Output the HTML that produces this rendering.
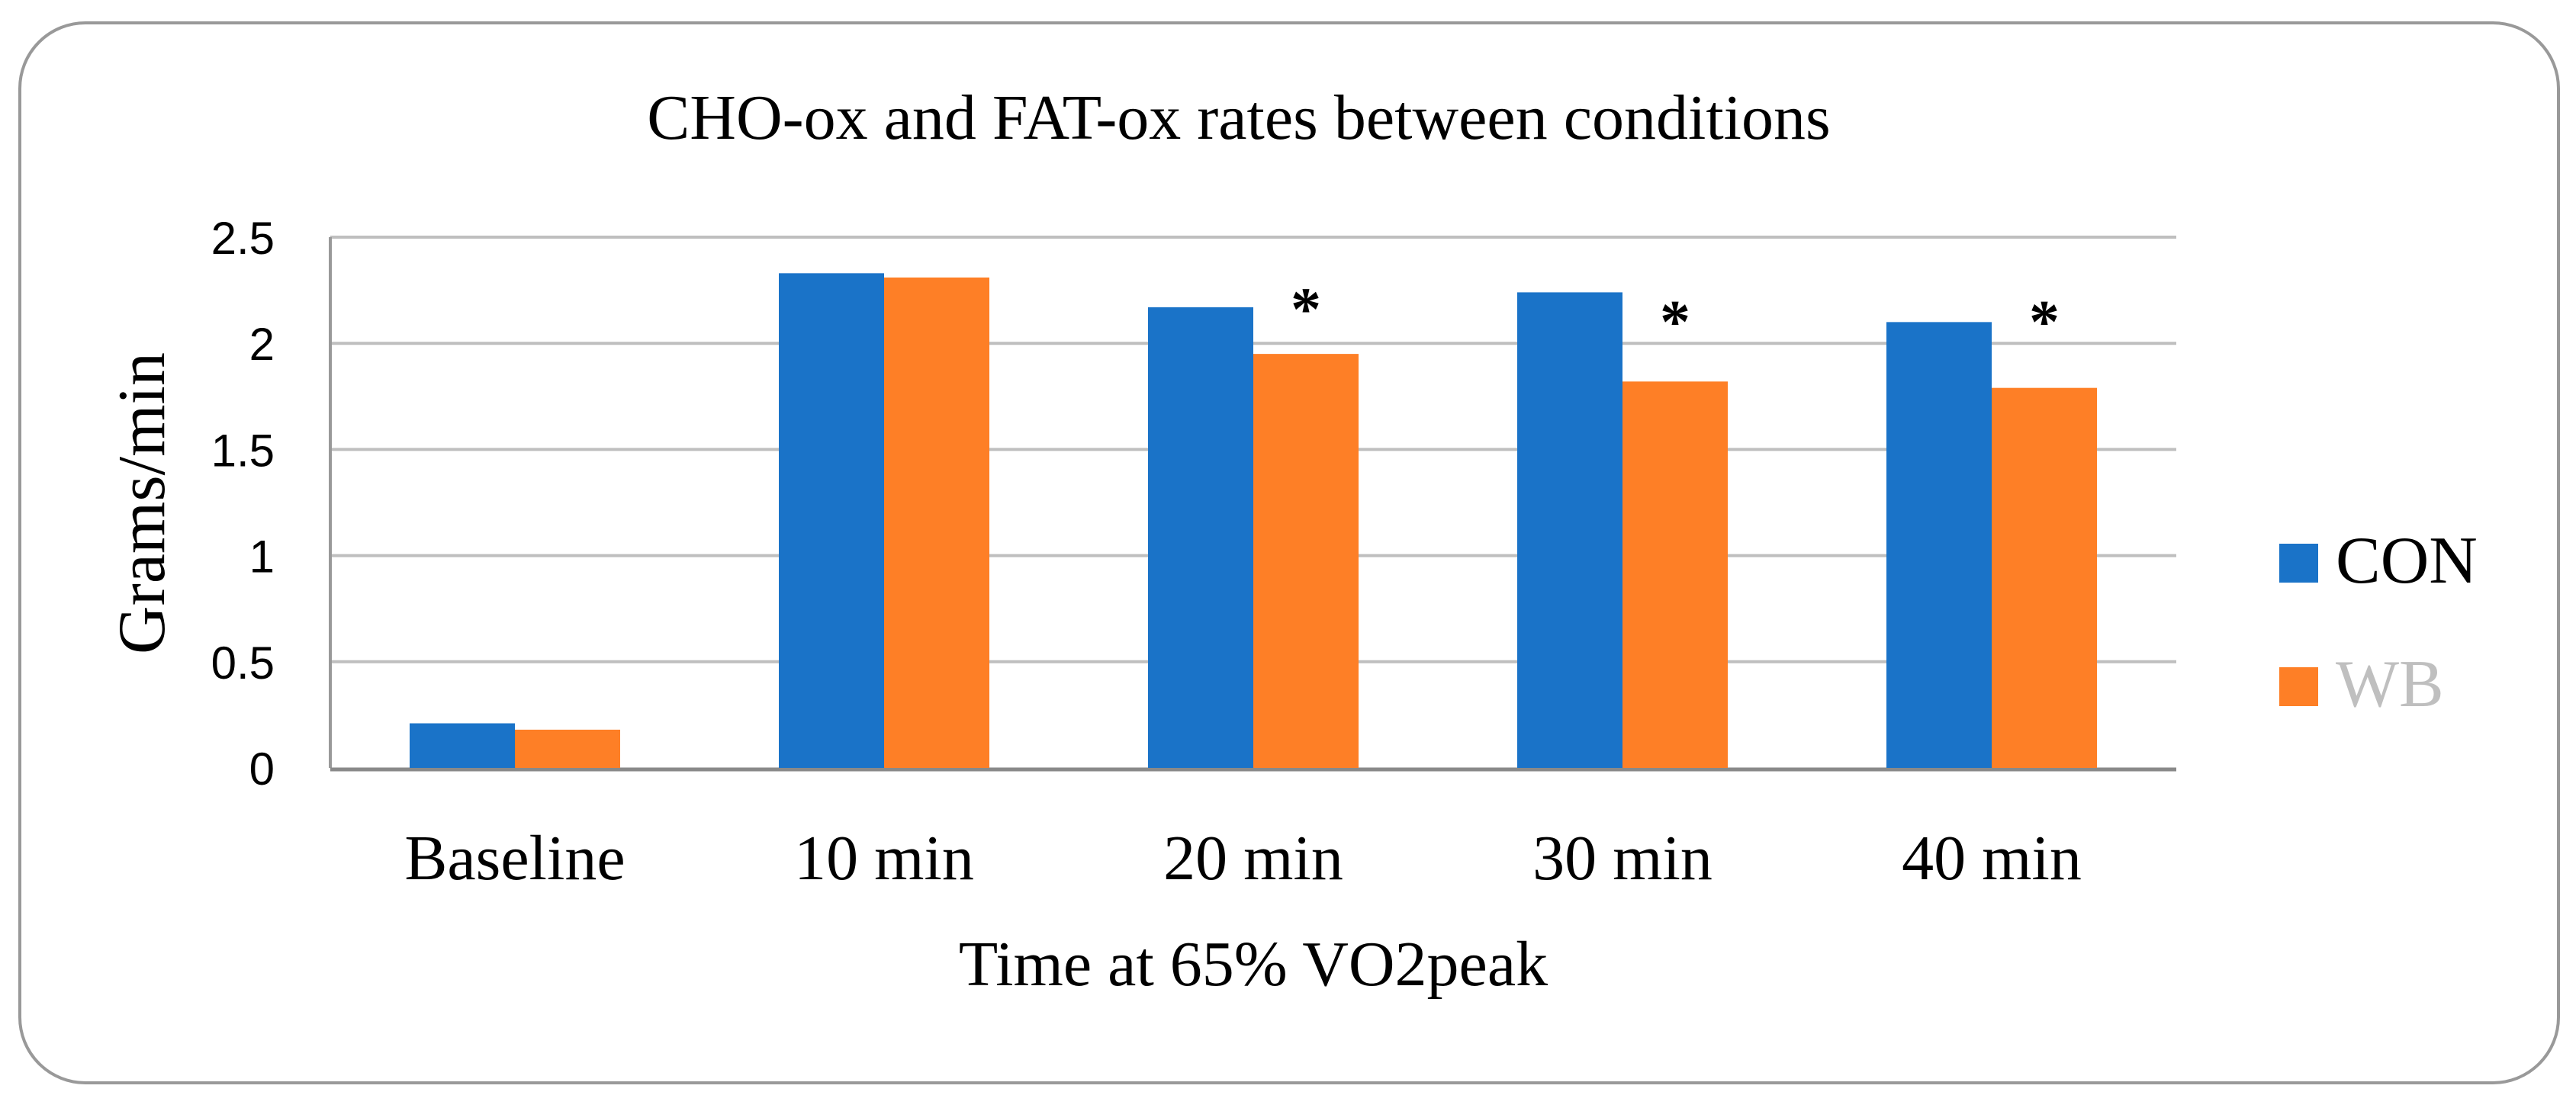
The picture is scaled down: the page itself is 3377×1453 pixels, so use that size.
<!DOCTYPE html>
<html><head><meta charset="utf-8"><style>
html,body{margin:0;padding:0;background:#fff;}
svg{display:block;}
</style></head><body>
<svg id="chart" width="3377" height="1453" viewBox="0 0 3377 1453" xmlns="http://www.w3.org/2000/svg">
<rect x="26" y="30" width="3328" height="1390" rx="86" ry="86" fill="#fff" stroke="#999" stroke-width="4"/>
<text x="1624" y="182" text-anchor="middle" font-family="Liberation Serif, serif" font-size="84">CHO-ox and FAT-ox rates between conditions</text>
<g id="grid"></g>
<g id="bars"></g>
<g id="labels"></g>
<text transform="translate(215,660) rotate(-90)" text-anchor="middle" font-family="Liberation Serif, serif" font-size="88">Grams/min</text>
<text x="1643" y="1292" text-anchor="middle" font-family="Liberation Serif, serif" font-size="84">Time at 65% VO2peak</text>
<g>
<rect x="2988" y="713" width="51" height="51" fill="#1a73c8"/>
<text x="3062" y="764" font-family="Liberation Serif, serif" font-size="88">CON</text>
<rect x="2988" y="875" width="51" height="51" fill="#fe7f26"/>
<text x="3062" y="926" font-family="Liberation Serif, serif" font-size="88" fill="#bfbfbf">WB</text>
</g>
</svg>
<script>
const categories = ["Baseline","10 min","20 min","30 min","40 min"];
const conValues = [0.21, 2.33, 2.17, 2.24, 2.10];
const wbValues = [0.18, 2.31, 1.95, 1.82, 1.79];
const yTicks = [0, 0.5, 1, 1.5, 2, 2.5];
const yTickLabels = ["0","0.5","1","1.5","2","2.5"];
const starCategories = [2, 3, 4];
const starValues = [2.2, 2.14, 2.14];

const NS = "http://www.w3.org/2000/svg";
const plotL = 433, plotR = 2853, plotT = 311, plotB = 1007, yMax = 2.5;
const catW = (plotR - plotL) / categories.length;
const barW = 138;
function yScale(v){ return plotB - (v / yMax) * (plotB - plotT); }
function xCenter(i){ return plotL + catW * (i + 0.5); }
function mk(tag, attrs, parent){
  const e = document.createElementNS(NS, tag);
  for (const k in attrs) e.setAttribute(k, attrs[k]);
  parent.appendChild(e);
  return e;
}
const grid = document.getElementById('grid');
const bars = document.getElementById('bars');
const labels = document.getElementById('labels');
yTicks.forEach((t, i) => {
  if (t > 0) {
    const l = mk('line', {x1: plotL, x2: plotR, y1: yScale(t), y2: yScale(t), stroke: '#bfbfbf', 'stroke-width': 4}, grid);
    
    
  }
  const tx = mk('text', {x: 360, y: yScale(t) + 22, 'text-anchor': 'end', 'font-family': 'Liberation Sans, sans-serif', 'font-size': 60}, labels);
  tx.textContent = yTickLabels[i];
  
  
});
const yAxis = mk('line', {x1: plotL, x2: plotL, y1: plotT, y2: plotB, stroke: '#999', 'stroke-width': 4}, grid);


categories.forEach((c, i) => {
  const cx = xCenter(i);
  const b1 = mk('rect', {x: cx - barW, y: yScale(conValues[i]), width: barW, height: plotB - yScale(conValues[i]), fill: '#1a73c8'}, bars);
  
  
  const b2 = mk('rect', {x: cx, y: yScale(wbValues[i]), width: barW, height: plotB - yScale(wbValues[i]), fill: '#fe7f26'}, bars);
  
  
  const lt = mk('text', {x: cx, y: 1153, 'text-anchor': 'middle', 'font-family': 'Liberation Serif, serif', 'font-size': 84}, labels);
  lt.textContent = c;
  
  
});
const xAxis = mk('line', {x1: plotL, x2: plotR, y1: plotB + 2, y2: plotB + 2, stroke: '#898989', 'stroke-width': 5}, grid);


starCategories.forEach((ci, k) => {
  const s = mk('text', {x: xCenter(ci) + barW / 2, y: yScale(starValues[k]) + 38, 'text-anchor': 'middle', 'font-family': 'Liberation Serif, serif', 'font-size': 80, 'font-weight': 'bold'}, labels);
  s.textContent = '*';
  
  
});
</script>
</body></html>
